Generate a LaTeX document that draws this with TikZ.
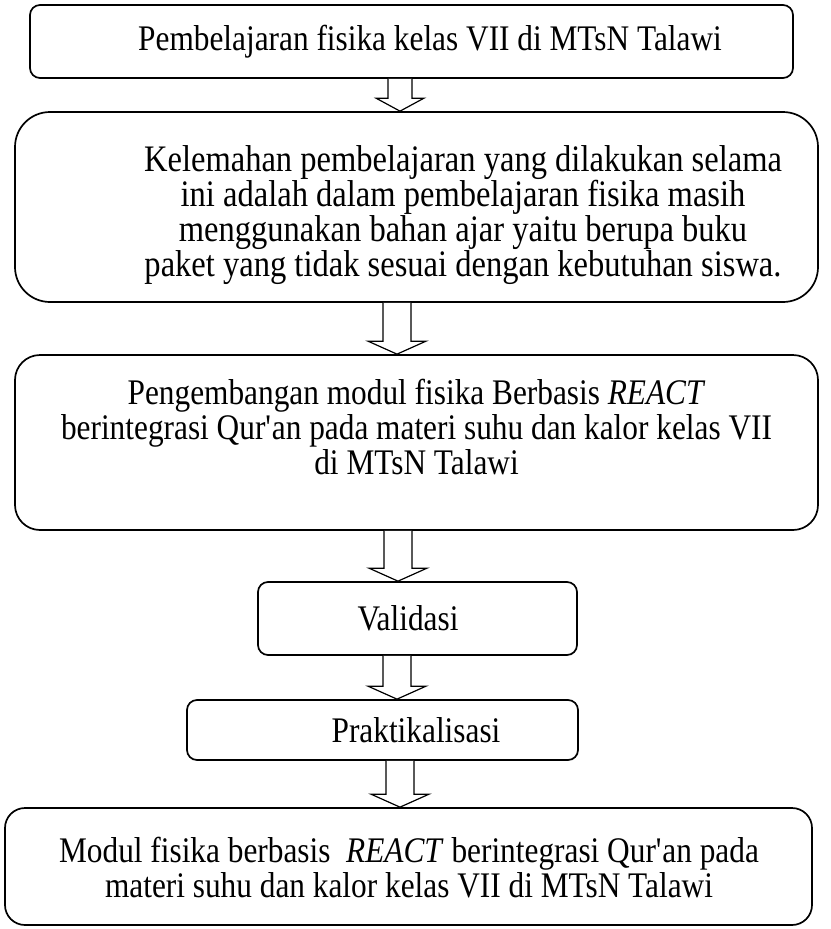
\documentclass[tikz,border=0pt]{standalone}
\usepackage{fontspec}
\setmainfont{Liberation Serif}[FakeStretch=0.87]
\usetikzlibrary{calc}
\begin{document}
\begin{tikzpicture}[x=1pt,y=-1pt]
\useasboundingbox (0,0) rectangle (830,929);
\tikzset{
  box/.style={draw=black, line width=1.7pt, rounded corners=#1, inner sep=0pt, fill=white},
  txt/.style={font=\fontsize{36}{35}\selectfont, align=center, inner sep=0pt},
  bigtxt/.style={txt, font=\fontsize{37.4}{35}\selectfont},
  barrow/.style={draw=black, line width=1.2pt, fill=white, line join=miter}
}
% #1 x, #2 from node, #3 to node, #4 shaft half width, #5 head half width
\newcommand{\blockarr}[5]{%
  \draw[barrow] let \p1=(#2.south), \p2=(#3.north) in
    ({#1pt-#4pt},{\y1}) -- ({#1pt-#4pt},{\y2+13pt}) -- ({#1pt-#5pt},{\y2+13pt})
    -- ({#1pt},{\y2}) -- ({#1pt+#5pt},{\y2+13pt}) -- ({#1pt+#4pt},{\y2+13pt})
    -- ({#1pt+#4pt},{\y1});}

\node[box=10pt, minimum width=763pt, minimum height=73pt] (b1) at (411.5,41.5) {};
\node[txt] (t1) at (430,41.5) {Pembelajaran fisika kelas VII di MTsN Talawi};

\node[box=35pt, minimum width=803pt, minimum height=190pt] (b2) at (416.5,207) {};
\node[bigtxt] (t2) at (463,215) {Kelemahan pembelajaran yang dilakukan selama\\
ini adalah dalam pembelajaran fisika masih\\
menggunakan bahan ajar yaitu berupa buku\\
paket yang tidak sesuai dengan kebutuhan siswa.};

\node[box=25pt, minimum width=803pt, minimum height=175pt] (b3) at (416.5,442.5) {};
\node[txt] (t3) at (416.5,427) {Pengembangan modul fisika Berbasis \textit{REACT}\\
berintegrasi Qur\textquotesingle an pada materi suhu dan kalor kelas VII\\
di MTsN Talawi};

\node[box=10pt, minimum width=319pt, minimum height=73pt] (b4) at (417.5,618.5) {};
\node[txt] (t4) at (408,618.5) {Validasi};

\node[box=10pt, minimum width=391pt, minimum height=60pt] (b5) at (382.5,730) {};
\node[txt] (t5) at (416,730) {Praktikalisasi};

\node[box=20pt, minimum width=807pt, minimum height=117pt] (b6) at (408.5,866.5) {};
\node[txt] (t6) at (409,868) {Modul fisika berbasis \ \textit{REACT} berintegrasi Qur\textquotesingle an pada\\
materi suhu dan kalor kelas VII di MTsN Talawi};

\blockarr{400}{b1}{b2}{12}{24}
\blockarr{397}{b2}{b3}{14}{29}
\blockarr{398}{b3}{b4}{14}{29}
\blockarr{397}{b4}{b5}{14}{29}
\blockarr{400}{b5}{b6}{14}{29}
\end{tikzpicture}
\end{document}
